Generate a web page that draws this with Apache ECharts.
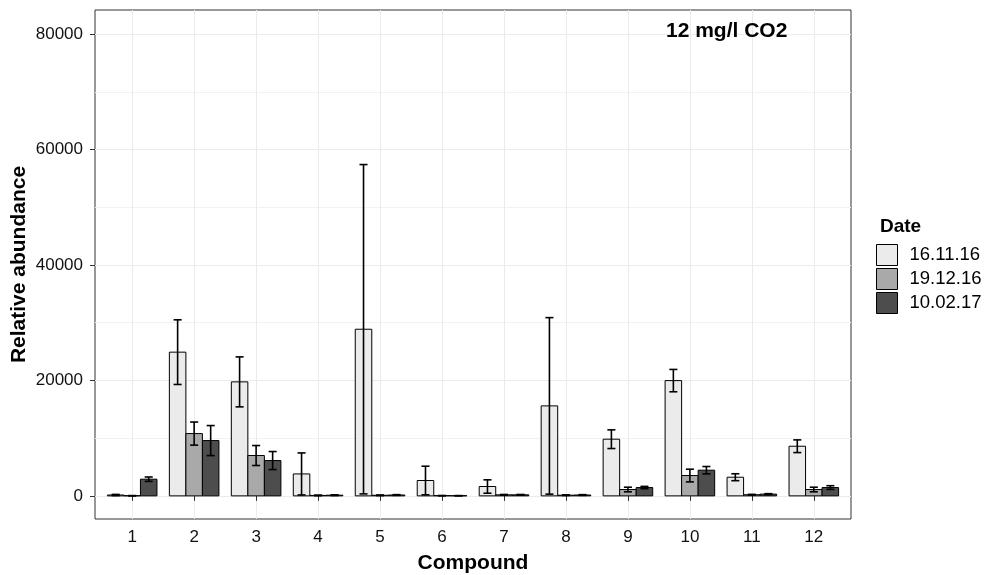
<!DOCTYPE html>
<html>
<head>
<meta charset="utf-8">
<script src="https://cdn.jsdelivr.net/npm/echarts@6/dist/echarts.min.js"></script>
<style>
html,body{margin:0;padding:0;background:#fff;}
#chart{width:989px;height:575px;}
</style>
</head>
<body>
<div id="chart"></div>
<script>
// ---- data ----
const categories = [1, 2, 3, 4, 5, 6, 7, 8, 9, 10, 11, 12];
const seriesNames = ['16.11.16', '19.12.16', '10.02.17'];
const mean_161116 = [150, 24900, 19750, 3800, 28870, 2660, 1620, 15590, 9820, 19970, 3230, 8600];
const se_161116   = [100, 5600, 4330, 3640, 28530, 2480, 1160, 15290, 1620, 1935, 600, 1100];
const mean_191216 = [30, 10790, 6990, 80, 100, 40, 180, 120, 1100, 3520, 200, 1100];
const se_191216   = [20, 2000, 1730, 50, 50, 20, 60, 50, 400, 1100, 60, 400];
const mean_100217 = [2890, 9580, 6120, 120, 150, 30, 180, 150, 1440, 4450, 300, 1440];
const se_100217   = [380, 2600, 1560, 60, 60, 20, 60, 60, 200, 635, 80, 320];
const yMajorTicks = [0, 20000, 40000, 60000, 80000];
const yMinorTicks = [10000, 30000, 50000, 70000];

const fills = ['#ebebeb', '#a9a9a9', '#4d4d4d'];
const means = [mean_161116, mean_191216, mean_100217];
const ses = [se_161116, se_191216, se_100217];

const FONT = '"Liberation Sans", Arial, Helvetica, sans-serif';
const dodge = 0.8;
const bw = dodge / 3;
const capHalf = 0.065;

const chart = echarts.init(document.getElementById('chart'));

function makeSeries(j) {
  const data = categories.map((c, i) => [c, means[j][i], ses[j][i]]);
  return {
    type: 'custom',
    name: seriesNames[j],
    xAxisIndex: 0,
    yAxisIndex: 0,
    itemStyle: {color: fills[j], borderColor: '#000', borderWidth: 1},
    data: data,
    z: 3,
    renderItem: function (params, api) {
      const x = api.value(0), y = api.value(1), e = api.value(2);
      const cx = x + (j - 1) * bw;
      const p0 = api.coord([cx - bw / 2, y]);
      const p1 = api.coord([cx + bw / 2, 0]);
      const top = api.coord([cx, y + e]);
      const bot = api.coord([cx, Math.max(y - e, 0)]);
      const cl = api.coord([cx - capHalf, 0])[0];
      const cr = api.coord([cx + capHalf, 0])[0];
      const lineStyle = {stroke: '#000', lineWidth: 1.6};
      return {
        type: 'group',
        children: [
          {type: 'rect', shape: {x: p0[0], y: p0[1], width: p1[0] - p0[0], height: p1[1] - p0[1]},
           style: {fill: fills[j], stroke: '#000', lineWidth: 1}},
          {type: 'line', shape: {x1: top[0], y1: top[1], x2: bot[0], y2: bot[1]}, style: lineStyle},
          {type: 'line', shape: {x1: cl, y1: top[1], x2: cr, y2: top[1]}, style: lineStyle},
          {type: 'line', shape: {x1: cl, y1: bot[1], x2: cr, y2: bot[1]}, style: lineStyle}
        ]
      };
    }
  };
}

const option = {
  backgroundColor: '#fff',
  animation: false,
  textStyle: {fontFamily: FONT},
  title: [
    {text: '12 mg/l CO2', left: 661, top: 16,
     textStyle: {fontFamily: FONT, fontSize: 21, fontWeight: 'bold', color: '#000'}},
    {text: 'Date', left: 875, top: 212,
     textStyle: {fontFamily: FONT, fontSize: 19, fontWeight: 'bold', color: '#000'}}
  ],
  legend: {
    orient: 'vertical',
    left: 876, top: 244,
    itemWidth: 21, itemHeight: 21, itemGap: 2,
    padding: 0,
    icon: 'rect',
    itemStyle: {borderColor: '#000', borderWidth: 1},
    textStyle: {fontFamily: FONT, fontSize: 18.5, color: '#000', padding: [0, 0, 0, 7]},
    data: seriesNames
  },
  grid: {left: 95, top: 10, width: 756, height: 509, show: true, outerBoundsMode: 'none', containLabel: false,
         borderColor: '#333', borderWidth: 1, backgroundColor: 'transparent'},
  xAxis: {
    type: 'value', min: 0.4, max: 12.6,
    name: 'Compound', nameLocation: 'middle', nameGap: 34, nameMoveOverlap: false,
    nameTextStyle: {fontFamily: FONT, fontSize: 21, fontWeight: 'bold', color: '#000'},
    axisLine: {show: false},
    axisTick: {show: true, length: 5, customValues: categories, lineStyle: {color: '#333'}},
    axisLabel: {customValues: categories, fontFamily: FONT, fontSize: 17, color: '#111', margin: 10,
                formatter: v => String(Math.round(v))},
    splitLine: {show: true, lineStyle: {color: '#ebebeb', width: 1}}
  },
  yAxis: [
    {
      type: 'value', min: -4008, max: 84178,
      name: 'Relative abundance', nameLocation: 'middle', nameGap: 65, nameRotate: 90, nameMoveOverlap: false,
      nameTextStyle: {fontFamily: FONT, fontSize: 21, fontWeight: 'bold', color: '#000'},
      axisLine: {show: false},
      axisTick: {show: true, length: 5, customValues: yMajorTicks, lineStyle: {color: '#333'}},
      axisLabel: {customValues: yMajorTicks, fontFamily: FONT, fontSize: 17, color: '#111', margin: 12,
                  formatter: v => String(Math.round(v))},
      splitLine: {show: true, lineStyle: {color: '#ebebeb', width: 1}}
    },
    {
      type: 'value', min: -4008, max: 84178, position: 'left',
      axisLine: {show: false},
      axisTick: {show: false, customValues: yMinorTicks},
      axisLabel: {show: false, customValues: yMinorTicks},
      splitLine: {show: true, lineStyle: {color: '#f2f2f2', width: 1}}
    }
  ],
  series: [makeSeries(0), makeSeries(1), makeSeries(2)]
};
chart.setOption(option);
</script>
</body>
</html>
